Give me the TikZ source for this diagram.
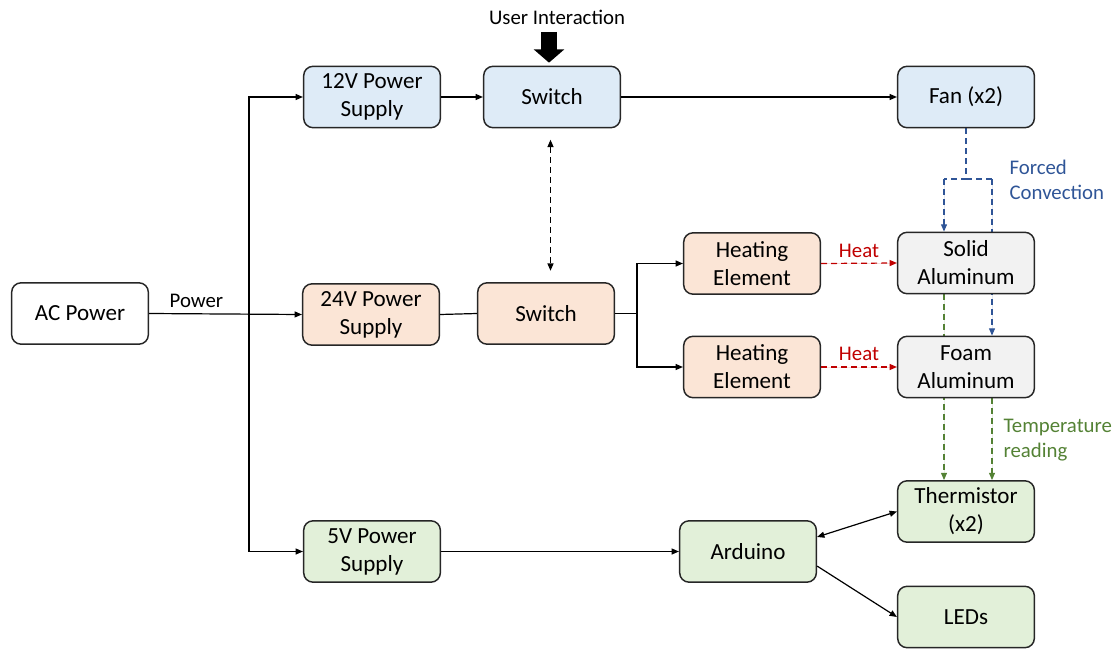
\documentclass[tikz,border=0pt]{standalone}
\usepackage{fontspec}
\setmainfont{Carlito}
\usetikzlibrary{arrows.meta,backgrounds,calc}

\definecolor{fillblue}{HTML}{DEEBF7}
\definecolor{fillorange}{HTML}{FBE5D6}
\definecolor{fillgray}{HTML}{F2F2F2}
\definecolor{fillgreen}{HTML}{E2F0D9}
\definecolor{heatred}{HTML}{C00000}
\definecolor{airblue}{HTML}{2F5597}
\definecolor{sensegreen}{HTML}{548235}
\definecolor{edge}{HTML}{262626}

\tikzset{
  block/.style={draw=edge, line width=1.1pt, rounded corners=7pt,
    minimum width=102.5pt, minimum height=46pt, align=center,
    font=\fontsize{17.3}{21}\selectfont, inner sep=2pt},
  lbl/.style={font=\fontsize{15.6}{19}\selectfont, inner sep=1pt},
  tip/.style={-{Triangle[length=5.5pt,width=4.5pt]}},
  wire/.style={line width=0.9pt, draw=black},
  dash pat/.style={dash pattern=on 4.5pt off 3pt},
  heatflow/.style={wire, tip, draw=heatred, fill=heatred, dash pat},
  airflow/.style={wire, draw=airblue, dash pat},
  sensing/.style={wire, draw=sensegreen, dash pat},
  bigarrow/.style={line width=12pt, -{Triangle[length=10pt,width=22.5pt]}},
}

\begin{document}
\begin{tikzpicture}[x=0.75pt,y=-0.75pt]
\useasboundingbox (0,0) rectangle (1119,649);

% blocks
\node[block, fill=white]       (ac)   at (80,313.5)  {AC Power};
\node[block, fill=fillblue]    (p12)  at (372,97)    {12V Power\\Supply};
\node[block, fill=fillblue]    (sw1)  at (552,97)    {Switch};
\node[block, fill=fillblue]    (fan)  at (966,97)    {Fan (x2)};
\node[block, fill=fillorange]  (p24)  at (371,314.5) {24V Power\\Supply};
\node[block, fill=fillorange]  (sw2)  at (546,313.5) {Switch};
\node[block, fill=fillorange]  (he1)  at (752,263.5) {Heating\\Element};
\node[block, fill=fillorange]  (he2)  at (752,367)   {Heating\\Element};
\node[block, fill=fillgray]    (sol)  at (966,263)   {Solid\\Aluminum};
\node[block, fill=fillgray]    (foam) at (966,367)   {Foam\\Aluminum};
\node[block, fill=fillgreen]   (thm)  at (966,511.5) {Thermistor\\(x2)};
\node[block, fill=fillgreen]   (p5)   at (372,551.5) {5V Power\\Supply};
\node[block, fill=fillgreen]   (ard)  at (748,551.5) {Arduino};
\node[block, fill=fillgreen]   (led)  at (966,617)   {LEDs};

% free labels
\node[lbl] (ui) at (557,17) {User Interaction};
\node[lbl, text=airblue, anchor=west, align=left] (fc) at (1008,180) {Forced\\Convection};
\node[lbl, text=sensegreen, anchor=west, align=left] (tr) at (1002,440) {Temperature\\reading};

% helper points
\coordinate (bus)   at (249,313.5);
\coordinate (fork)  at (637,313.5);
\coordinate (uitop) at (549,32);
\coordinate (cl)    at (944,179);
\coordinate (cr)    at (992,179);
\coordinate (sync)  at (550.5,0);

% user input
\draw[bigarrow, shorten >=2.2pt] (uitop) -- (uitop |- sw1.north);

% mains distribution
\draw[wire, tip] (ac.east) -- node[lbl, pos=0.31, above=3pt] {Power} (p24.west);
\draw[wire, tip] (bus |- p5.west) -- (bus |- p12.west) -- (p12.west);
\draw[wire, tip] (bus |- p5.west) -- (p5.west);

% 12 V branch
\draw[wire, tip] (p12.east) -- (sw1.west);
\draw[wire, tip] (sw1.east) -- (fan.west);

% linked switches
\draw[wire, dash pat, {Triangle[length=5.5pt,width=4.5pt]}-{Triangle[length=5.5pt,width=4.5pt]},
      shorten <=8.5pt, shorten >=8.5pt] (sync |- sw1.south) -- (sync |- sw2.north);

% 24 V branch
\draw[wire] (p24.east) -- (sw2.west);
\draw[wire] (sw2.east) -- (fork);
\draw[wire, tip] (fork) |- (he1.west);
\draw[wire, tip] (fork) |- (he2.west);

% heat transfer
\draw[heatflow] (he1.east) -- node[lbl, above=3pt, text=heatred] {Heat} (sol.west);
\draw[heatflow] (he2.east) -- node[lbl, above=3pt, text=heatred] {Heat} (foam.west);

% 5 V branch
\draw[wire, tip] (p5.east) -- (ard.west);
\draw[wire, {Triangle[length=5.5pt,width=4.5pt]}-{Triangle[length=5.5pt,width=4.5pt]}]
  ([yshift=10.9pt]ard.east) -- (thm.west);
\draw[wire, tip] ([yshift=-10.9pt]ard.east) -- (led.west);

% airflow and sensing paths, routed behind the aluminium blocks
\begin{scope}[on background layer]
  \draw[airflow] (fan.south) -- (fan.south |- cl) -- (cl);
  \draw[airflow, tip, fill=airblue] (cl) -- (cl |- sol.north);
  \draw[airflow] (fan.south |- cr) -- (cr);
  \draw[airflow, tip, fill=airblue] (cr) -- (cr |- foam.north);
  \draw[sensing, tip, fill=sensegreen] (cl |- sol.south) -- (cl |- thm.north);
  \draw[sensing, tip, fill=sensegreen] (cr |- foam.south) -- (cr |- thm.north);
\end{scope}
\end{tikzpicture}
\end{document}
